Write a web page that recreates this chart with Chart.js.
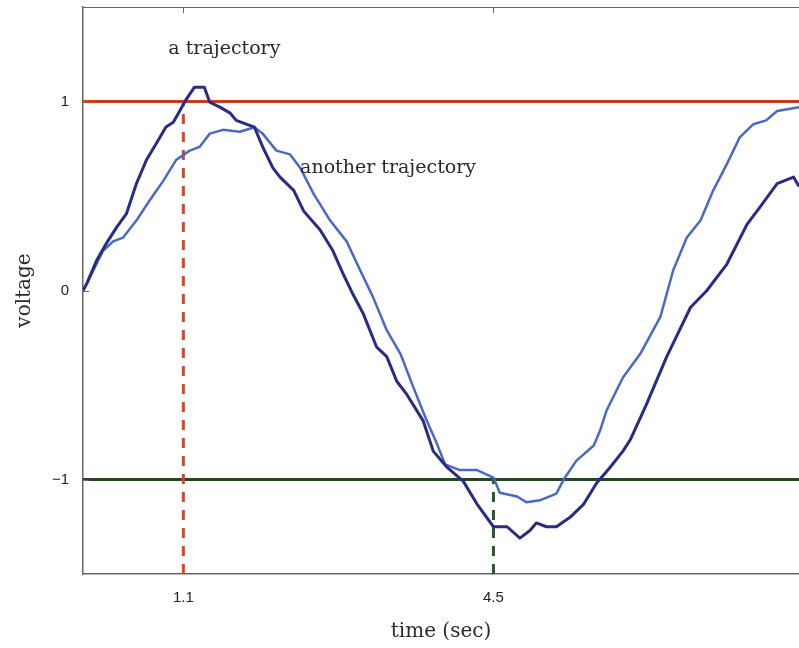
<!DOCTYPE html>
<html>
<head>
<meta charset="utf-8">
<script src="https://cdn.jsdelivr.net/npm/chart.js@4.4.1/dist/chart.umd.min.js"></script>
<style>
  body { margin: 0; background: #fff; }
  canvas { display: block; }
</style>
</head>
<body>
<canvas id="chart" width="799" height="648"></canvas>
<script>
// time (sec) and voltage
const darkTime = [0, 0.04, 0.15, 0.27, 0.37, 0.475, 0.585, 0.695, 0.80, 0.91, 0.99, 1.06, 1.13, 1.22, 1.33, 1.39, 1.50, 1.61, 1.68, 1.79, 1.88, 1.97, 2.08, 2.16, 2.31, 2.42, 2.60, 2.74, 2.85, 2.96, 3.07, 3.22, 3.33, 3.44, 3.55, 3.73, 3.84, 3.99, 4.17, 4.32, 4.50, 4.65, 4.79, 4.90, 4.97, 5.08, 5.19, 5.34, 5.49, 5.63, 5.78, 5.92, 6.00, 6.18, 6.40, 6.66, 6.84, 7.06, 7.28, 7.42, 7.61, 7.79, 7.85]
const darkVolt = [0, 0.035, 0.16, 0.26, 0.335, 0.405, 0.565, 0.69, 0.775, 0.865, 0.89, 0.95, 1.01, 1.075, 1.075, 0.996, 0.97, 0.94, 0.90, 0.88, 0.864, 0.76, 0.65, 0.60, 0.53, 0.42, 0.32, 0.21, 0.09, -0.02, -0.12, -0.30, -0.35, -0.48, -0.55, -0.69, -0.85, -0.935, -1.01, -1.13, -1.25, -1.25, -1.31, -1.27, -1.23, -1.25, -1.25, -1.20, -1.13, -1.02, -0.935, -0.85, -0.79, -0.60, -0.35, -0.09, 0.0, 0.14, 0.35, 0.44, 0.565, 0.60, 0.55]

const lightTime = [0, 0.04, 0.22, 0.33, 0.44, 0.585, 0.73, 0.88, 1.02, 1.17, 1.28, 1.39, 1.535, 1.72, 1.88, 1.97, 2.12, 2.27, 2.38, 2.53, 2.71, 2.89, 3.04, 3.18, 3.33, 3.48, 3.62, 3.77, 3.88, 3.97, 4.13, 4.32, 4.50, 4.57, 4.76, 4.86, 5.01, 5.19, 5.27, 5.41, 5.60, 5.67, 5.74, 5.92, 6.11, 6.33, 6.47, 6.62, 6.77, 6.91, 7.06, 7.20, 7.35, 7.49, 7.61, 7.85]
const lightVolt = [0, 0.035, 0.21, 0.26, 0.28, 0.37, 0.476, 0.58, 0.69, 0.74, 0.76, 0.83, 0.85, 0.84, 0.864, 0.83, 0.74, 0.72, 0.65, 0.51, 0.37, 0.26, 0.106, -0.035, -0.21, -0.335, -0.51, -0.69, -0.81, -0.92, -0.95, -0.95, -0.99, -1.07, -1.09, -1.12, -1.11, -1.075, -1.0, -0.90, -0.82, -0.74, -0.635, -0.46, -0.335, -0.14, 0.106, 0.28, 0.37, 0.53, 0.67, 0.81, 0.88, 0.90, 0.95, 0.97]

const xTicks = [1.1, 4.5]
const yTicks = [-1, 0, 1]
const xRange = [0, 7.85]
const yRange = [-1.5, 1.5]
const upperLevel = 1
const lowerLevel = -1
const upperMarkTime = 1.1
const lowerMarkTime = 4.5
const noteA = 'a trajectory'
const noteB = 'another trajectory'

const toPoints = (xs, ys) => xs.map((x, i) => ({x: x, y: ys[i]}))

const notesPlugin = {
    id: 'notes',
    afterDraw(chart) {
        const ctx = chart.ctx
        const x = chart.scales.x
        const y = chart.scales.y
        const area = chart.chartArea
        ctx.save()
        ctx.strokeStyle = '#666'
        ctx.lineWidth = 1
        ctx.beginPath()
        ctx.moveTo(area.left, area.top + 0.5)
        ctx.lineTo(area.right, area.top + 0.5)
        xTicks.forEach((v) => {
            const px = Math.round(x.getPixelForValue(v)) + 0.5
            ctx.moveTo(px, area.top)
            ctx.lineTo(px, area.top + 6)
        })
        yTicks.forEach((v) => {
            const py = Math.round(y.getPixelForValue(v)) + 0.5
            ctx.moveTo(area.left, py)
            ctx.lineTo(area.left + 6, py)
        })
        ctx.stroke()

        ctx.fillStyle = '#2a2a2a'
        ctx.font = '19px "DejaVu Serif"'
        ctx.textBaseline = 'middle'
        ctx.textAlign = 'center'
        ctx.fillText(noteA, x.getPixelForValue(1.55), y.getPixelForValue(1.28))
        ctx.textAlign = 'left'
        ctx.fillText(noteB, x.getPixelForValue(2.38), y.getPixelForValue(0.65))
        ctx.restore()
    }
}

new Chart(document.getElementById('chart').getContext('2d'), {
    type: 'line',
    data: {
        datasets: [
            {
                data: toPoints(darkTime, darkVolt),
                borderColor: 'rgb(40, 44, 130)',
                borderWidth: 3,
            },
            {
                data: toPoints(lightTime, lightVolt),
                borderColor: 'rgb(74, 106, 194)',
                borderWidth: 2.5,
            },
            {
                data: toPoints([upperMarkTime, upperMarkTime], [yRange[0], upperLevel]),
                borderColor: 'rgb(214, 72, 38)',
                borderWidth: 3,
                borderDash: [10, 8],
            },
            {
                data: toPoints([lowerMarkTime, lowerMarkTime], [yRange[0], lowerLevel]),
                borderColor: 'rgb(42, 88, 42)',
                borderWidth: 3,
                borderDash: [10, 8],
            },
            {
                data: toPoints(xRange, [upperLevel, upperLevel]),
                borderColor: 'rgb(192, 36, 36)',
                borderWidth: 2.5,
            },
            {
                data: toPoints(xRange, [upperLevel, upperLevel]),
                borderColor: 'rgb(236, 196, 50)',
                borderWidth: 3.5,
            },
            {
                data: toPoints(xRange, [lowerLevel, lowerLevel]),
                borderColor: 'rgb(34, 72, 30)',
                borderWidth: 3,
            },
        ]
    },
    options: {
        responsive: false,
        animation: false,
        events: [],
        elements: {
            point: {radius: 0},
            line: {tension: 0, fill: false, borderCapStyle: 'butt', borderJoinStyle: 'round'}
        },
        layout: {padding: {top: 7, right: 0, bottom: 0, left: 0}},
        plugins: {
            legend: {display: false},
            tooltip: {enabled: false},
        },
        scales: {
            x: {
                type: 'linear',
                min: xRange[0],
                max: xRange[1],
                afterBuildTicks: (scale) => { scale.ticks = xTicks.map((v) => ({value: v})) },
                afterFit: (scale) => {
                    scale.height = 74
                    scale.paddingLeft = 0
                    scale.paddingRight = 0
                },
                grid: {display: false},
                border: {display: true, color: '#666', width: 1.5},
                ticks: {
                    padding: 7,
                    color: '#222',
                    font: {family: 'Liberation Sans', size: 15},
                    maxRotation: 0,
                    callback: (v) => String(v),
                },
                title: {
                    display: true,
                    text: 'time (sec)',
                    color: '#2a2a2a',
                    font: {family: 'DejaVu Serif', size: 20},
                    padding: {top: 0, bottom: 4},
                },
            },
            y: {
                type: 'linear',
                min: yRange[0],
                max: yRange[1],
                afterBuildTicks: (scale) => { scale.ticks = yTicks.map((v) => ({value: v})) },
                afterFit: (scale) => {
                    scale.width = 83
                    scale.paddingTop = 0
                    scale.paddingBottom = 0
                },
                grid: {display: false},
                border: {display: true, color: '#666', width: 1.5},
                ticks: {
                    padding: 6,
                    color: '#222',
                    font: {family: 'Liberation Sans', size: 15},
                    callback: (v) => v < 0 ? '\u2212' + Math.abs(v) : String(v),
                },
                title: {
                    display: true,
                    text: 'voltage',
                    color: '#2a2a2a',
                    font: {family: 'DejaVu Serif', size: 20},
                    padding: {top: 13, bottom: 0},
                },
            },
        },
    },
    plugins: [notesPlugin],
})
</script>
</body>
</html>
